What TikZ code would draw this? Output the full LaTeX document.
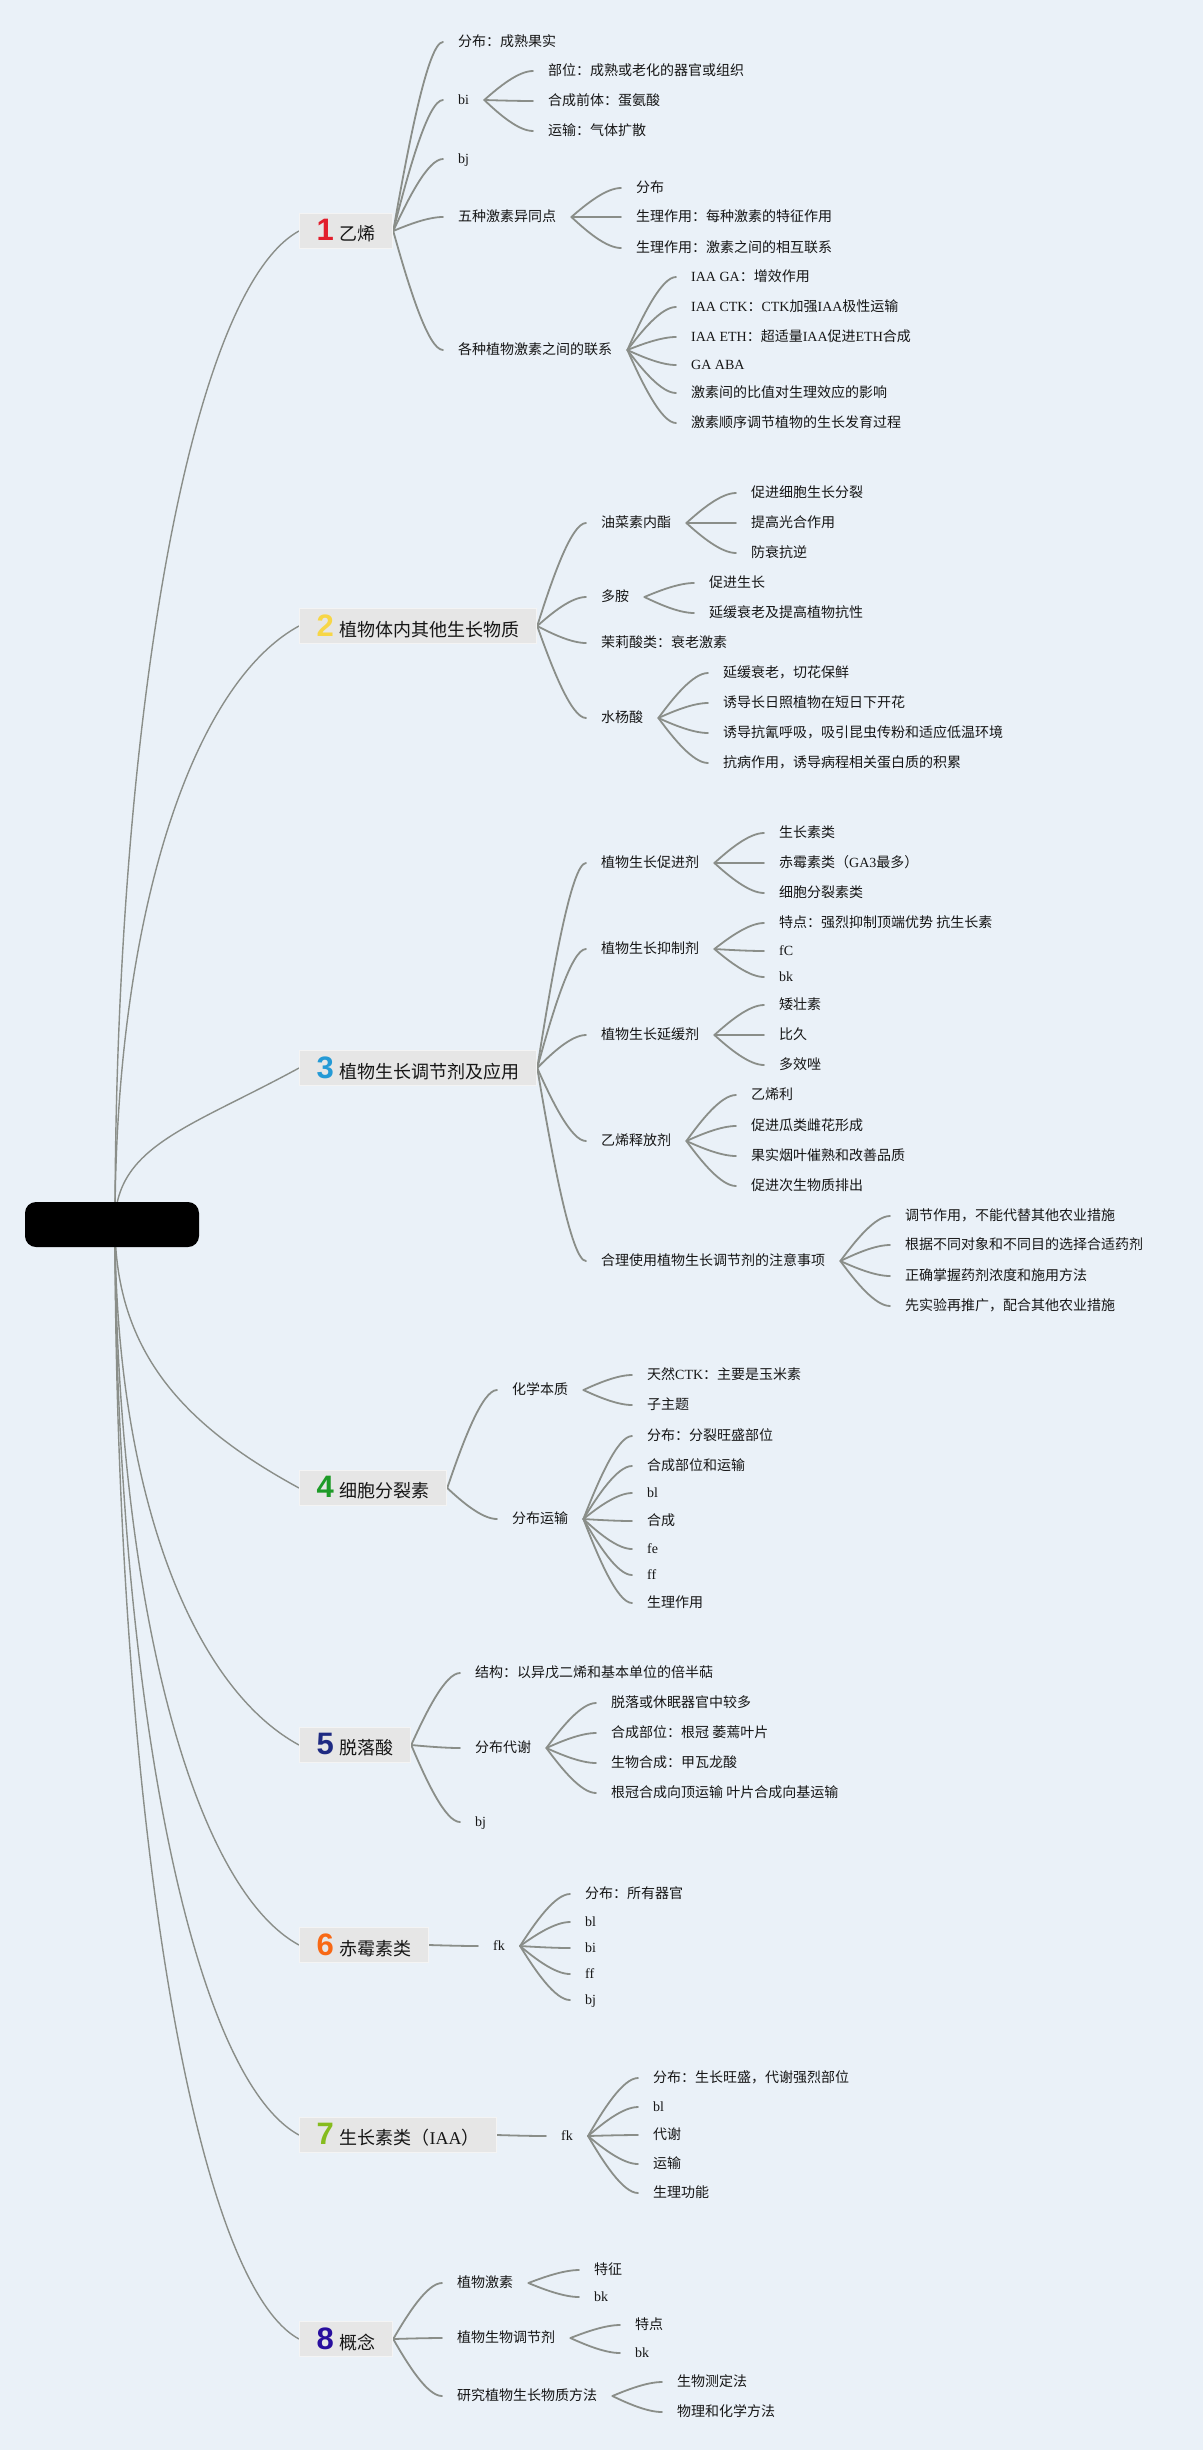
\documentclass[tikz,border=0pt]{standalone}
\usepackage{fontspec}
\setmainfont{Noto Sans CJK SC}
\newfontfamily\lat{Liberation Serif}
\newfontfamily\digf{Liberation Sans}
\usetikzlibrary{calc}
\definecolor{bgc}{RGB}{234,241,248}
\definecolor{lnc}{RGB}{138,142,137}
\definecolor{boxc}{RGB}{230,230,230}
\definecolor{boxb}{RGB}{244,244,244}
\definecolor{txc}{RGB}{22,22,22}
\definecolor{n1}{RGB}{226,30,44}
\definecolor{n2}{RGB}{247,214,70}
\definecolor{n3}{RGB}{36,154,214}
\definecolor{n4}{RGB}{30,155,40}
\definecolor{n5}{RGB}{30,42,130}
\definecolor{n6}{RGB}{248,104,20}
\definecolor{n7}{RGB}{134,188,30}
\definecolor{n8}{RGB}{40,14,158}
\newcommand\LT[1]{{\lat #1}}
\newcommand\BoxNum[2]{{\digf\bfseries\fontsize{31}{31}\selectfont\color{#1}#2}\hspace{6pt}}
\pgfdeclarelayer{bg}
\pgfsetlayers{bg,main}
\begin{document}
\begin{tikzpicture}[x=1pt,y=-1pt,
  leaf/.style={anchor=west, inner xsep=15pt, inner ysep=1pt, text height=11pt, text depth=2pt, font=\fontsize{14}{16}\selectfont, text=txc},
  mbox/.style={anchor=west, fill=boxc, draw=boxb, line width=1pt, minimum height=35pt, inner xsep=17pt, inner ysep=2pt, font=\fontsize{18}{20}\selectfont, text=txc},
  conn/.style={draw=lnc, line width=1.8pt, line cap=round},
  rconn/.style={draw=lnc, line width=1.4pt},
  br/.style={to path={let \p1=(\tikztostart), \p2=(\tikztotarget) in .. controls ({\x1+0.3*(\x2-\x1)},{\y1+0.45*(\y2-\y1)}) and ({\x1+0.7*(\x2-\x1)},\y2) .. (\tikztotarget)}}
]
\begin{pgfonlayer}{bg}
\fill[bgc] (0,0) rectangle (1203,2450);
\end{pgfonlayer}
\useasboundingbox (0,0) rectangle (1203,2450);

\node[fill=black, rounded corners=11pt, minimum width=174pt, minimum height=45pt, inner sep=0pt] (root) at (112,1224.5) {};
\coordinate (rc) at ([xshift=3pt]root.center);

% Section 1
\node[mbox] (s1) at (299,231) {\BoxNum{n1}{1}乙烯};
\node[leaf] (s1a) at (443,42) {分布：成熟果实};
\node[leaf] (s1b) at (443,100) {\LT{bi}};
\node[leaf] (s1b1) at (533,71) {部位：成熟或老化的器官或组织};
\node[leaf] (s1b2) at (533,101) {合成前体：蛋氨酸};
\node[leaf] (s1b3) at (533,131) {运输：气体扩散};
\node[leaf] (s1c) at (443,159) {\LT{bj}};
\node[leaf] (s1d) at (443,217) {五种激素异同点};
\node[leaf] (s1d1) at (621,188) {分布};
\node[leaf] (s1d2) at (621,217) {生理作用：每种激素的特征作用};
\node[leaf] (s1d3) at (621,248) {生理作用：激素之间的相互联系};
\node[leaf] (s1e) at (443,350) {各种植物激素之间的联系};
\node[leaf] (s1e1) at (676,277) {\LT{IAA GA}：增效作用};
\node[leaf] (s1e2) at (676,307) {\LT{IAA CTK}：\LT{CTK}加强\LT{IAA}极性运输};
\node[leaf] (s1e3) at (676,337) {\LT{IAA ETH}：超适量\LT{IAA}促进\LT{ETH}合成};
\node[leaf] (s1e4) at (676,365) {\LT{GA ABA}};
\node[leaf] (s1e5) at (676,393) {激素间的比值对生理效应的影响};
\node[leaf] (s1e6) at (676,423) {激素顺序调节植物的生长发育过程};

% Section 2
\node[mbox] (s2) at (299,626) {\BoxNum{n2}{2}植物体内其他生长物质};
\node[leaf] (s2a) at (586,523) {油菜素内酯};
\node[leaf] (s2a1) at (736,493) {促进细胞生长分裂};
\node[leaf] (s2a2) at (736,523) {提高光合作用};
\node[leaf] (s2a3) at (736,553) {防衰抗逆};
\node[leaf] (s2b) at (586,597) {多胺};
\node[leaf] (s2b1) at (694,583) {促进生长};
\node[leaf] (s2b2) at (694,613) {延缓衰老及提高植物抗性};
\node[leaf] (s2c) at (586,643) {茉莉酸类：衰老激素};
\node[leaf] (s2d) at (586,718) {水杨酸};
\node[leaf] (s2d1) at (708,673) {延缓衰老，切花保鲜};
\node[leaf] (s2d2) at (708,703) {诱导长日照植物在短日下开花};
\node[leaf] (s2d3) at (708,733) {诱导抗氰呼吸，吸引昆虫传粉和适应低温环境};
\node[leaf] (s2d4) at (708,763) {抗病作用，诱导病程相关蛋白质的积累};

% Section 3
\node[mbox] (s3) at (299,1068) {\BoxNum{n3}{3}植物生长调节剂及应用};
\node[leaf] (s3a) at (586,863) {植物生长促进剂};
\node[leaf] (s3a1) at (764,833) {生长素类};
\node[leaf] (s3a2) at (764,863) {赤霉素类（\LT{GA3}最多）};
\node[leaf] (s3a3) at (764,893) {细胞分裂素类};
\node[leaf] (s3b) at (586,949) {植物生长抑制剂};
\node[leaf] (s3b1) at (764,923) {特点：强烈抑制顶端优势 抗生长素};
\node[leaf] (s3b2) at (764,951) {\LT{fC}};
\node[leaf] (s3b3) at (764,977) {\LT{bk}};
\node[leaf] (s3c) at (586,1035) {植物生长延缓剂};
\node[leaf] (s3c1) at (764,1005) {矮壮素};
\node[leaf] (s3c2) at (764,1035) {比久};
\node[leaf] (s3c3) at (764,1065) {多效唑};
\node[leaf] (s3d) at (586,1141) {乙烯释放剂};
\node[leaf] (s3d1) at (736,1095) {乙烯利};
\node[leaf] (s3d2) at (736,1126) {促进瓜类雌花形成};
\node[leaf] (s3d3) at (736,1156) {果实烟叶催熟和改善品质};
\node[leaf] (s3d4) at (736,1186) {促进次生物质排出};
\node[leaf] (s3e) at (586,1261) {合理使用植物生长调节剂的注意事项};
\node[leaf] (s3e1) at (890,1216) {调节作用，不能代替其他农业措施};
\node[leaf] (s3e2) at (890,1245) {根据不同对象和不同目的选择合适药剂};
\node[leaf] (s3e3) at (890,1276) {正确掌握药剂浓度和施用方法};
\node[leaf] (s3e4) at (890,1306) {先实验再推广，配合其他农业措施};

% Section 4
\node[mbox] (s4) at (299,1488) {\BoxNum{n4}{4}细胞分裂素};
\node[leaf] (s4a) at (497,1390) {化学本质};
\node[leaf] (s4a1) at (632,1375) {天然\LT{CTK}：主要是玉米素};
\node[leaf] (s4a2) at (632,1405) {子主题};
\node[leaf] (s4b) at (497,1519) {分布运输};
\node[leaf] (s4b1) at (632,1436) {分布：分裂旺盛部位};
\node[leaf] (s4b2) at (632,1466) {合成部位和运输};
\node[leaf] (s4b3) at (632,1493) {\LT{bl}};
\node[leaf] (s4b4) at (632,1521) {合成};
\node[leaf] (s4b5) at (632,1549) {\LT{fe}};
\node[leaf] (s4b6) at (632,1575) {\LT{ff}};
\node[leaf] (s4b7) at (632,1603) {生理作用};

% Section 5
\node[mbox] (s5) at (299,1745) {\BoxNum{n5}{5}脱落酸};
\node[leaf] (s5a) at (460,1673) {结构：以异戊二烯和基本单位的倍半萜};
\node[leaf] (s5b) at (460,1748) {分布代谢};
\node[leaf] (s5b1) at (596,1703) {脱落或休眠器官中较多};
\node[leaf] (s5b2) at (596,1733) {合成部位：根冠 萎蔫叶片};
\node[leaf] (s5b3) at (596,1763) {生物合成：甲瓦龙酸};
\node[leaf] (s5b4) at (596,1793) {根冠合成向顶运输 叶片合成向基运输};
\node[leaf] (s5c) at (460,1822) {\LT{bj}};

% Section 6
\node[mbox] (s6) at (299,1945) {\BoxNum{n6}{6}赤霉素类};
\node[leaf] (s6a) at (478,1946) {\LT{fk}};
\node[leaf] (s6a1) at (570,1894) {分布：所有器官};
\node[leaf] (s6a2) at (570,1922) {\LT{bl}};
\node[leaf] (s6a3) at (570,1948) {\LT{bi}};
\node[leaf] (s6a4) at (570,1974) {\LT{ff}};
\node[leaf] (s6a5) at (570,2000) {\LT{bj}};

% Section 7
\node[mbox] (s7) at (299,2135) {\BoxNum{n7}{7}生长素类（\LT{IAA}）};
\node[leaf] (s7a) at (546,2136) {\LT{fk}};
\node[leaf] (s7a1) at (638,2078) {分布：生长旺盛，代谢强烈部位};
\node[leaf] (s7a2) at (638,2107) {\LT{bl}};
\node[leaf] (s7a3) at (638,2135) {代谢};
\node[leaf] (s7a4) at (638,2164) {运输};
\node[leaf] (s7a5) at (638,2193) {生理功能};

% Section 8
\node[mbox] (s8) at (299,2339) {\BoxNum{n8}{8}概念};
\node[leaf] (s8a) at (442,2283) {植物激素};
\node[leaf] (s8a1) at (579,2270) {特征};
\node[leaf] (s8a2) at (579,2297) {\LT{bk}};
\node[leaf] (s8b) at (442,2338) {植物生物调节剂};
\node[leaf] (s8b1) at (620,2325) {特点};
\node[leaf] (s8b2) at (620,2353) {\LT{bk}};
\node[leaf] (s8c) at (442,2396) {研究植物生长物质方法};
\node[leaf] (s8c1) at (662,2382) {生物测定法};
\node[leaf] (s8c2) at (662,2412) {物理和化学方法};

\begin{pgfonlayer}{bg}
\draw[rconn] (rc) .. controls (115,728) and (189,291) .. (s1.west);
\draw[rconn] (rc) .. controls (115,925) and (189,686) .. (s2.west);
\draw[rconn] (rc) .. controls (115,1146) and (189,1128) .. (s3.west);
\draw[rconn] (rc) .. controls (115,1356) and (189,1428) .. (s4.west);
\draw[rconn] (rc) .. controls (115,1485) and (189,1685) .. (s5.west);
\draw[rconn] (rc) .. controls (115,1585) and (189,1885) .. (s6.west);
\draw[rconn] (rc) .. controls (115,1680) and (189,2075) .. (s7.west);
\draw[rconn] (rc) .. controls (115,1782) and (189,2279) .. (s8.west);
\foreach \parn/\chn in {s1/s1a,s1/s1b,s1/s1c,s1/s1d,s1/s1e,
  s1b/s1b1,s1b/s1b2,s1b/s1b3,s1d/s1d1,s1d/s1d2,s1d/s1d3,
  s1e/s1e1,s1e/s1e2,s1e/s1e3,s1e/s1e4,s1e/s1e5,s1e/s1e6,
  s2/s2a,s2/s2b,s2/s2c,s2/s2d,s2a/s2a1,s2a/s2a2,s2a/s2a3,s2b/s2b1,s2b/s2b2,
  s2d/s2d1,s2d/s2d2,s2d/s2d3,s2d/s2d4,
  s3/s3a,s3/s3b,s3/s3c,s3/s3d,s3/s3e,s3a/s3a1,s3a/s3a2,s3a/s3a3,
  s3b/s3b1,s3b/s3b2,s3b/s3b3,s3c/s3c1,s3c/s3c2,s3c/s3c3,
  s3d/s3d1,s3d/s3d2,s3d/s3d3,s3d/s3d4,s3e/s3e1,s3e/s3e2,s3e/s3e3,s3e/s3e4,
  s4/s4a,s4/s4b,s4a/s4a1,s4a/s4a2,s4b/s4b1,s4b/s4b2,s4b/s4b3,s4b/s4b4,s4b/s4b5,s4b/s4b6,s4b/s4b7,
  s5/s5a,s5/s5b,s5/s5c,s5b/s5b1,s5b/s5b2,s5b/s5b3,s5b/s5b4,
  s6/s6a,s6a/s6a1,s6a/s6a2,s6a/s6a3,s6a/s6a4,s6a/s6a5,
  s7/s7a,s7a/s7a1,s7a/s7a2,s7a/s7a3,s7a/s7a4,s7a/s7a5,
  s8/s8a,s8/s8b,s8/s8c,s8a/s8a1,s8a/s8a2,s8b/s8b1,s8b/s8b2,s8c/s8c1,s8c/s8c2}
  \draw[conn] (\parn.east) to[br] (\chn.west);
\end{pgfonlayer}
\end{tikzpicture}
\end{document}
